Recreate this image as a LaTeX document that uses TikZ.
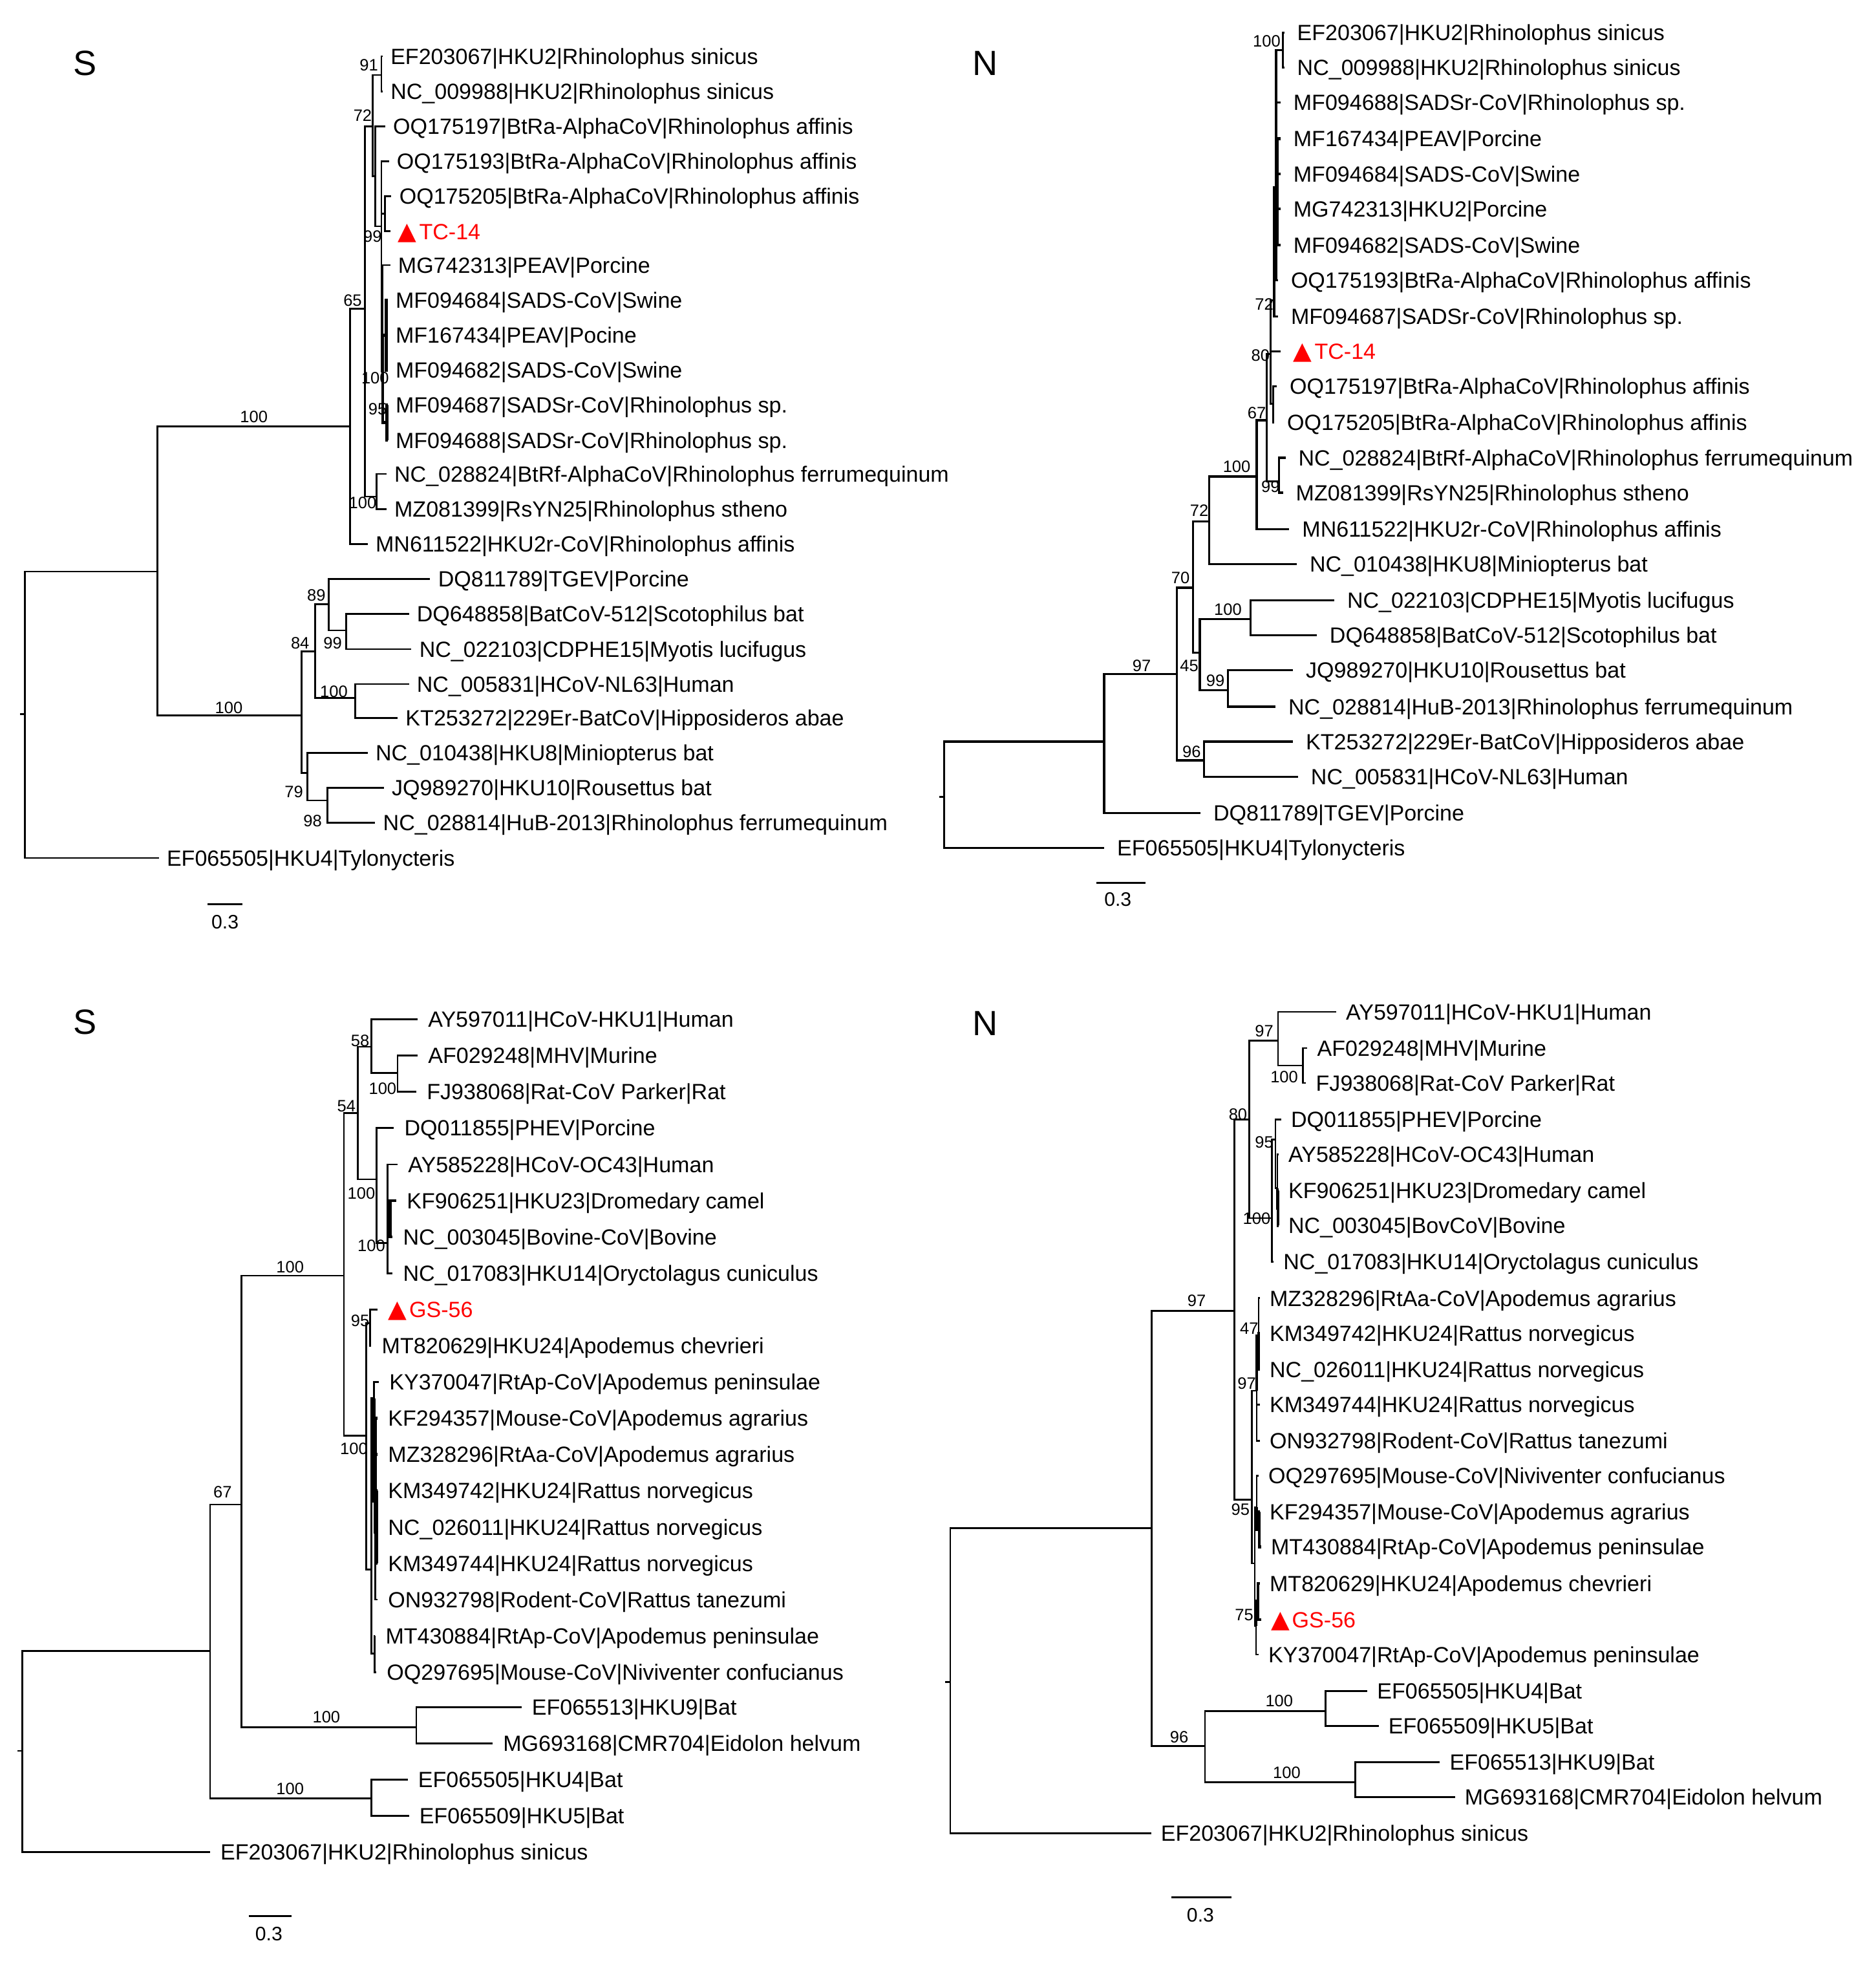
\documentclass[tikz,border=0pt]{standalone}
\usepackage{fontspec}
\setmainfont{Liberation Sans}
\newfontfamily\symfont{DejaVu Sans}
\newcommand\labfont{\fontsize{8.8pt}{10pt}\selectfont}
\newcommand\bsfont{\fontsize{6.6pt}{8pt}\selectfont}
\newcommand\scfont{\fontsize{7.8pt}{9pt}\selectfont}
\newcommand\letfont{\fontsize{14pt}{16pt}\selectfont}
\newcommand\leaf[4]{\coordinate (#1) at ({#2-\lgap},#3);\node[lab] (#1-t) at (#2,#3) {#4};}
\newcommand\leafred[4]{\coordinate (#1) at ({#2-\lgap},#3);\node[lab,text=red] (#1-t) at (#2,#3) {\scalebox{1.1}{\symfont ▲}\kern1pt#4};}
\tikzset{
  lab/.style={font=\labfont, anchor=base west, inner sep=0pt, yshift=-3.15pt},
  bs/.style={font=\bsfont, anchor=base, inner sep=0pt, yshift=-2.36pt},
  sc/.style={font=\scfont, anchor=base, inner sep=0pt, yshift=-2.8pt},
  letter/.style={font=\letfont, anchor=base, inner sep=0pt, yshift=-5pt},
  tree/.style={line width=0.7pt},
  dense/.style={line width=1.2pt},
  sbar/.style={line width=0.9pt}
}
\begin{document}
\begin{tikzpicture}[x=0.5pt,y=-0.5pt]
\useasboundingbox (0,0) rectangle (1500,1568);
% ================= TOP LEFT (S) =================
\def\lgap{6}
\node[letter] (tl-let) at (68,50) {S};
\coordinate (tl-r) at (20,571);
\coordinate (tl-stub) at (16,571);
\coordinate (tl-n1) at (126,457);
\coordinate (tl-A) at (280,341);
\coordinate (tl-B) at (292,247);
\coordinate (tl-C) at (301,397);
\coordinate (tl-D) at (298,101);
\coordinate (tl-N91) at (305,60);
\coordinate (tl-E) at (300,141);
\coordinate (tl-F) at (305,181);
\coordinate (tl-G) at (308,171);
\coordinate (tl-H) at (306,297);
\coordinate (tl-J) at (309,268);
\coordinate (tl-K) at (309.5,338);
\coordinate (tl-Q) at (241,572);
\coordinate (tl-R) at (252,521);
\coordinate (tl-S) at (263,483);
\coordinate (tl-N99) at (277,504);
\coordinate (tl-Nb) at (284,558);
\coordinate (tl-N79) at (246,618);
\coordinate (tl-N98) at (262,640);
\leaf{tl-1}{312}{45}{EF203067|HKU2|Rhinolophus sinicus}
\leaf{tl-2}{312}{73}{NC\_009988|HKU2|Rhinolophus sinicus}
\leaf{tl-3}{314}{101}{OQ175197|BtRa-AlphaCoV|Rhinolophus affinis}
\leaf{tl-4}{317}{129}{OQ175193|BtRa-AlphaCoV|Rhinolophus affinis}
\leaf{tl-5}{319}{157}{OQ175205|BtRa-AlphaCoV|Rhinolophus affinis}
\leafred{tl-6}{318}{185}{TC-14}
\leaf{tl-7}{318}{212}{MG742313|PEAV|Porcine}
\leaf{tl-8}{316}{240}{MF094684|SADS-CoV|Swine}
\leaf{tl-9}{316}{268}{MF167434|PEAV|Pocine}
\leaf{tl-10}{316}{296}{MF094682|SADS-CoV|Swine}
\leaf{tl-11}{316}{324}{MF094687|SADSr-CoV|Rhinolophus sp.}
\leaf{tl-12}{316}{352}{MF094688|SADSr-CoV|Rhinolophus sp.}
\leaf{tl-13}{315}{379}{NC\_028824|BtRf-AlphaCoV|Rhinolophus ferrumequinum}
\leaf{tl-14}{315}{407}{MZ081399|RsYN25|Rhinolophus stheno}
\leaf{tl-15}{300}{435}{MN611522|HKU2r-CoV|Rhinolophus affinis}
\leaf{tl-16}{350}{463}{DQ811789|TGEV|Porcine}
\leaf{tl-17}{333}{491}{DQ648858|BatCoV-512|Scotophilus bat}
\leaf{tl-18}{335}{519}{NC\_022103|CDPHE15|Myotis lucifugus}
\leaf{tl-19}{333}{547}{NC\_005831|HCoV-NL63|Human}
\leaf{tl-20}{324}{574}{KT253272|229Er-BatCoV|Hipposideros abae}
\leaf{tl-21}{300}{602}{NC\_010438|HKU8|Miniopterus bat}
\leaf{tl-22}{313}{630}{JQ989270|HKU10|Rousettus bat}
\leaf{tl-23}{306}{658}{NC\_028814|HuB-2013|Rhinolophus ferrumequinum}
\leaf{tl-24}{133}{686}{EF065505|HKU4|Tylonycteris}
\draw[tree] (tl-r) -- (tl-stub);
\foreach \a/\b in {tl-r/tl-n1, tl-r/tl-24, tl-n1/tl-A, tl-n1/tl-Q, tl-A/tl-B, tl-A/tl-15,
  tl-B/tl-D, tl-B/tl-C, tl-C/tl-13, tl-C/tl-14, tl-D/tl-N91, tl-D/tl-E, tl-N91/tl-1, tl-N91/tl-2,
  tl-E/tl-3, tl-E/tl-F, tl-F/tl-4, tl-F/tl-G, tl-F/tl-H, tl-G/tl-5, tl-G/tl-6, tl-H/tl-7,
  tl-Q/tl-R, tl-Q/tl-N79, tl-R/tl-S, tl-R/tl-Nb, tl-S/tl-16, tl-S/tl-N99, tl-N99/tl-17,
  tl-N99/tl-18, tl-Nb/tl-19, tl-Nb/tl-20, tl-N79/tl-21, tl-N79/tl-N98, tl-N98/tl-22, tl-N98/tl-23}
  \draw[tree] (\a) |- (\b);
\foreach \a/\b in {tl-H/tl-J, tl-H/tl-K, tl-J/tl-8, tl-J/tl-9, tl-J/tl-10, tl-K/tl-11, tl-K/tl-12}
  \draw[dense] (\a) |- (\b);
\foreach \x/\y/\t [count=\i] in {295/52/91, 290/92/72, 298/189/99, 282/240/65, 300/302/100,
  302/327/95, 203/333/100, 290/402/100, 183/566/100, 253/476/89, 266/514/99, 240/514/84,
  267/553/100, 235/633/79, 250/656/98}
  \node[bs] (tl-bs\i) at (\x,\y) {\t};
\coordinate (tl-sb1) at (166,723);
\coordinate (tl-sb2) at (194,723);
\draw[sbar] (tl-sb1) -- (tl-sb2);
\node[sc] (tl-sbt) at (180,737) {0.3};
% ================= TOP RIGHT (N) =================
\def\lgap{10}
\node[letter] (tr-let) at (788,50) {N};
\coordinate (tr-r) at (755,637);
\coordinate (tr-stub) at (751,637);
\coordinate (tr-N97a) at (883,593);
\coordinate (tr-N97) at (941,539);
\coordinate (tr-N70) at (954,470);
\coordinate (tr-N72) at (967,417);
\coordinate (tr-N100) at (1005,381);
\coordinate (tr-N67) at (1013,336);
\coordinate (tr-N99) at (1023,385);
\coordinate (tr-N80) at (1016,283);
\coordinate (tr-Noq) at (1018,323);
\coordinate (tr-N72b) at (1019,240);
\coordinate (tr-Nc) at (1020.5,150);
\coordinate (tr-Nc2) at (1021.5,160);
\coordinate (tr-Ntop) at (1026,40);
\coordinate (tr-N45) at (959.5,522);
\coordinate (tr-N100b) at (1000,495);
\coordinate (tr-N99b) at (982,552);
\coordinate (tr-N96) at (963,608);
\leaf{tr-1}{1037}{26}{EF203067|HKU2|Rhinolophus sinicus}
\leaf{tr-2}{1037}{54}{NC\_009988|HKU2|Rhinolophus sinicus}
\leaf{tr-3}{1034}{82}{MF094688|SADSr-CoV|Rhinolophus sp.}
\leaf{tr-4}{1034}{111}{MF167434|PEAV|Porcine}
\leaf{tr-5}{1034}{139}{MF094684|SADS-CoV|Swine}
\leaf{tr-6}{1034}{167}{MG742313|HKU2|Porcine}
\leaf{tr-7}{1034}{196}{MF094682|SADS-CoV|Swine}
\leaf{tr-8}{1032}{224}{OQ175193|BtRa-AlphaCoV|Rhinolophus affinis}
\leaf{tr-9}{1032}{253}{MF094687|SADSr-CoV|Rhinolophus sp.}
\leafred{tr-10}{1034}{281}{TC-14}
\leaf{tr-11}{1031}{309}{OQ175197|BtRa-AlphaCoV|Rhinolophus affinis}
\leaf{tr-12}{1029}{338}{OQ175205|BtRa-AlphaCoV|Rhinolophus affinis}
\leaf{tr-13}{1038}{366}{NC\_028824|BtRf-AlphaCoV|Rhinolophus ferrumequinum}
\leaf{tr-14}{1036}{394}{MZ081399|RsYN25|Rhinolophus stheno}
\leaf{tr-15}{1041}{423}{MN611522|HKU2r-CoV|Rhinolophus affinis}
\leaf{tr-16}{1047}{451}{NC\_010438|HKU8|Miniopterus bat}
\leaf{tr-17}{1077}{480}{NC\_022103|CDPHE15|Myotis lucifugus}
\leaf{tr-18}{1063}{508}{DQ648858|BatCoV-512|Scotophilus bat}
\leaf{tr-19}{1044}{536}{JQ989270|HKU10|Rousettus bat}
\leaf{tr-20}{1030}{565}{NC\_028814|HuB-2013|Rhinolophus ferrumequinum}
\leaf{tr-21}{1044}{593}{KT253272|229Er-BatCoV|Hipposideros abae}
\leaf{tr-22}{1048}{621}{NC\_005831|HCoV-NL63|Human}
\leaf{tr-23}{970}{650}{DQ811789|TGEV|Porcine}
\leaf{tr-24}{893}{678}{EF065505|HKU4|Tylonycteris}
\begin{scope}[tree/.style={line width=0.85pt}]
\draw[tree] (tr-r) -- (tr-stub);
\foreach \a/\b in {tr-r/tr-N97a, tr-r/tr-24, tr-N97a/tr-N97, tr-N97a/tr-23, tr-N97/tr-N70,
  tr-N97/tr-N96, tr-N70/tr-N72, tr-N70/tr-N45, tr-N72/tr-N100, tr-N72/tr-16, tr-N100/tr-N67,
  tr-N100/tr-15, tr-N67/tr-N80, tr-N67/tr-N99, tr-N99/tr-13, tr-N99/tr-14, tr-N80/tr-N72b,
  tr-N80/tr-10, tr-N80/tr-Noq, tr-Noq/tr-11, tr-Noq/tr-12, tr-N72b/tr-9,
  tr-Nc/tr-Ntop, tr-Nc/tr-3, tr-Nc/tr-8, tr-Ntop/tr-1, tr-Ntop/tr-2, tr-N45/tr-N100b,
  tr-N45/tr-N99b, tr-N100b/tr-17, tr-N100b/tr-18, tr-N99b/tr-19, tr-N99b/tr-20,
  tr-N96/tr-21, tr-N96/tr-22}
  \draw[tree] (\a) |- (\b);
\end{scope}
\foreach \a/\b in {tr-N72b/tr-Nc, tr-Nc/tr-Nc2, tr-Nc2/tr-4, tr-Nc2/tr-5, tr-Nc2/tr-6, tr-Nc2/tr-7}
  \draw[dense] (\a) |- (\b);
\foreach \x/\y/\t [count=\i] in {1013/33/100, 1011/243/72, 1008/284/80, 1005/330/67,
  989/373/100, 1016/389/99, 959/408/72, 944/462/70, 982/487/100, 951/532/45, 913/532/97,
  972/544/99, 953/601/96}
  \node[bs] (tr-bs\i) at (\x,\y) {\t};
\coordinate (tr-sb1) at (877,706);
\coordinate (tr-sb2) at (916,706);
\draw[sbar] (tr-sb1) -- (tr-sb2);
\node[sc] (tr-sbt) at (894,719) {0.3};
% ================= BOTTOM LEFT (S) =================
\def\lgap{8}
\node[letter] (bl-let) at (68,817) {S};
\coordinate (bl-r) at (18,1400);
\coordinate (bl-stub) at (14,1400);
\coordinate (bl-N67) at (168,1320);
\coordinate (bl-Nhk) at (297,1438);
\coordinate (bl-Na) at (193,1203);
\coordinate (bl-Nh9) at (333,1381);
\coordinate (bl-Nb) at (275,1020);
\coordinate (bl-N54) at (286,890);
\coordinate (bl-N58) at (297,837);
\coordinate (bl-Nd) at (318,858);
\coordinate (bl-Ne) at (301,943);
\coordinate (bl-Nf) at (310,994);
\coordinate (bl-Nkf) at (312,975);
\coordinate (bl-Ng) at (293,1148);
\coordinate (bl-N95) at (296,1058);
\coordinate (bl-Nbig) at (297,1255);
\coordinate (bl-Nx) at (299,1118);
\coordinate (bl-Nc) at (300,1200);
\coordinate (bl-Nd2) at (301,1225);
\coordinate (bl-Ny) at (299.5,1322);
\leaf{bl-1}{342}{815}{AY597011|HCoV-HKU1|Human}
\leaf{bl-2}{342}{844}{AF029248|MHV|Murine}
\leaf{bl-3}{341}{873}{FJ938068|Rat-CoV Parker|Rat}
\leaf{bl-4}{323}{902}{DQ011855|PHEV|Porcine}
\leaf{bl-5}{326}{931}{AY585228|HCoV-OC43|Human}
\leaf{bl-6}{325}{960}{KF906251|HKU23|Dromedary camel}
\leaf{bl-7}{322}{989}{NC\_003045|Bovine-CoV|Bovine}
\leaf{bl-8}{322}{1018}{NC\_017083|HKU14|Oryctolagus cuniculus}
\leafred{bl-9}{310}{1047}{GS-56}
\leaf{bl-10}{305}{1076}{MT820629|HKU24|Apodemus chevrieri}
\leaf{bl-11}{311}{1105}{KY370047|RtAp-CoV|Apodemus peninsulae}
\leaf{bl-12}{310}{1134}{KF294357|Mouse-CoV|Apodemus agrarius}
\leaf{bl-13}{310}{1163}{MZ328296|RtAa-CoV|Apodemus agrarius}
\leaf{bl-14}{310}{1192}{KM349742|HKU24|Rattus norvegicus}
\leaf{bl-15}{310}{1221}{NC\_026011|HKU24|Rattus norvegicus}
\leaf{bl-16}{310}{1250}{KM349744|HKU24|Rattus norvegicus}
\leaf{bl-17}{310}{1279}{ON932798|Rodent-CoV|Rattus tanezumi}
\leaf{bl-18}{308}{1308}{MT430884|RtAp-CoV|Apodemus peninsulae}
\leaf{bl-19}{309}{1337}{OQ297695|Mouse-CoV|Niviventer confucianus}
\leaf{bl-20}{425}{1365}{EF065513|HKU9|Bat}
\leaf{bl-21}{402}{1394}{MG693168|CMR704|Eidolon helvum}
\leaf{bl-22}{334}{1423}{EF065505|HKU4|Bat}
\leaf{bl-23}{335}{1452}{EF065509|HKU5|Bat}
\leaf{bl-24}{176}{1481}{EF203067|HKU2|Rhinolophus sinicus}
\draw[tree] (bl-r) -- (bl-stub);
\foreach \a/\b in {bl-r/bl-N67, bl-r/bl-24, bl-N67/bl-Na, bl-N67/bl-Nhk, bl-Nhk/bl-22,
  bl-Nhk/bl-23, bl-Na/bl-Nb, bl-Na/bl-Nh9, bl-Nh9/bl-20, bl-Nh9/bl-21, bl-Nb/bl-N54,
  bl-Nb/bl-Ng, bl-N54/bl-N58, bl-N54/bl-Ne, bl-N58/bl-1, bl-N58/bl-Nd, bl-Nd/bl-2, bl-Nd/bl-3,
  bl-Ne/bl-4, bl-Ne/bl-Nf, bl-Nf/bl-5, bl-Nf/bl-Nkf, bl-Nf/bl-8,
  bl-Ng/bl-N95, bl-Ng/bl-Nbig, bl-N95/bl-9, bl-N95/bl-10, bl-Nbig/bl-Nx, bl-Nbig/bl-Ny,
  bl-Nx/bl-11, bl-Nc/bl-17, bl-Ny/bl-18, bl-Ny/bl-19}
  \draw[tree] (\a) |- (\b);
\foreach \a/\b in {bl-Nkf/bl-6, bl-Nkf/bl-7, bl-Nx/bl-Nc, bl-Nc/bl-12, bl-Nc/bl-13,
  bl-Nc/bl-Nd2, bl-Nd2/bl-14, bl-Nd2/bl-15, bl-Nd2/bl-16}
  \draw[dense] (\a) |- (\b);
\foreach \x/\y/\t [count=\i] in {288/832/58, 306/870/100, 277/884/54, 289/954/100,
  297/996/100, 232/1013/100, 288/1056/95, 283/1158/100, 178/1193/67, 261/1373/100, 232/1430/100}
  \node[bs] (bl-bs\i) at (\x,\y) {\t};
\coordinate (bl-sb1) at (199,1532);
\coordinate (bl-sb2) at (233,1532);
\draw[sbar] (bl-sb1) -- (bl-sb2);
\node[sc] (bl-sbt) at (215,1546) {0.3};
% ================= BOTTOM RIGHT (N) =================
\def\lgap{7.5}
\node[letter] (br-let) at (788,818) {N};
\coordinate (br-r) at (760,1345);
\coordinate (br-stub) at (756,1345);
\coordinate (br-Nm) at (921,1222);
\coordinate (br-N97) at (987,1048);
\coordinate (br-N80) at (999,895);
\coordinate (br-N97b) at (1022,832);
\coordinate (br-Nk) at (1042,852);
\coordinate (br-Nj) at (1017,974);
\coordinate (br-N95c) at (1020,911);
\coordinate (br-Noc) at (1021.5,950);
\coordinate (br-Nkf2) at (1022,966);
\coordinate (br-N95b) at (1001,1199);
\coordinate (br-N97c) at (1005,1112);
\coordinate (br-N47) at (1006.5,1068);
\coordinate (br-Nx) at (1003.5,1250);
\coordinate (br-Noq) at (1005,1205);
\coordinate (br-Nkf) at (1007,1223);
\coordinate (br-N75) at (1004.5,1300);
\coordinate (br-Nmt) at (1006,1280);
\coordinate (br-N96) at (963.7,1396);
\coordinate (br-Nh) at (1060,1368);
\coordinate (br-Ni) at (1084,1425);
\leaf{br-1}{1076}{809}{AY597011|HCoV-HKU1|Human}
\leaf{br-2}{1053}{838}{AF029248|MHV|Murine}
\leaf{br-3}{1052}{866}{FJ938068|Rat-CoV Parker|Rat}
\leaf{br-4}{1032}{895}{DQ011855|PHEV|Porcine}
\leaf{br-5}{1030}{923}{AY585228|HCoV-OC43|Human}
\leaf{br-6}{1030}{952}{KF906251|HKU23|Dromedary camel}
\leaf{br-7}{1030}{980}{NC\_003045|BovCoV|Bovine}
\leaf{br-8}{1026}{1009}{NC\_017083|HKU14|Oryctolagus cuniculus}
\leaf{br-9}{1015}{1038}{MZ328296|RtAa-CoV|Apodemus agrarius}
\leaf{br-10}{1015}{1066}{KM349742|HKU24|Rattus norvegicus}
\leaf{br-11}{1015}{1095}{NC\_026011|HKU24|Rattus norvegicus}
\leaf{br-12}{1015}{1123}{KM349744|HKU24|Rattus norvegicus}
\leaf{br-13}{1015}{1152}{ON932798|Rodent-CoV|Rattus tanezumi}
\leaf{br-14}{1014}{1180}{OQ297695|Mouse-CoV|Niviventer confucianus}
\leaf{br-15}{1015}{1209}{KF294357|Mouse-CoV|Apodemus agrarius}
\leaf{br-16}{1016}{1237}{MT430884|RtAp-CoV|Apodemus peninsulae}
\leaf{br-17}{1015}{1266}{MT820629|HKU24|Apodemus chevrieri}
\leafred{br-18}{1016}{1295}{GS-56}
\leaf{br-19}{1014}{1323}{KY370047|RtAp-CoV|Apodemus peninsulae}
\leaf{br-20}{1101}{1352}{EF065505|HKU4|Bat}
\leaf{br-21}{1110}{1380}{EF065509|HKU5|Bat}
\leaf{br-22}{1159}{1409}{EF065513|HKU9|Bat}
\leaf{br-23}{1171}{1437}{MG693168|CMR704|Eidolon helvum}
\leaf{br-24}{928}{1466}{EF203067|HKU2|Rhinolophus sinicus}
\draw[tree] (br-r) -- (br-stub);
\foreach \a/\b in {br-r/br-Nm, br-r/br-24, br-Nm/br-N97, br-Nm/br-N96, br-N97/br-N80,
  br-N97/br-N95b, br-N80/br-N97b, br-N80/br-Nj, br-N97b/br-1, br-N97b/br-Nk, br-Nk/br-2,
  br-Nk/br-3, br-Nj/br-N95c, br-Nj/br-8, br-N95c/br-4, br-N95c/br-Noc, br-Noc/br-5,
  br-N95b/br-N97c, br-N95b/br-Nx,
  br-N97c/br-12, br-N97c/br-13, br-N47/br-9,
  br-Nx/br-Noq, br-Nx/br-N75, br-Noq/br-14,
  br-N75/br-19, br-N96/br-Nh, br-N96/br-Ni,
  br-Nh/br-20, br-Nh/br-21, br-Ni/br-22, br-Ni/br-23}
  \draw[tree] (\a) |- (\b);
\foreach \a/\b in {br-Noc/br-Nkf2, br-Nkf2/br-6, br-Nkf2/br-7, br-N97c/br-N47, br-N47/br-10,
  br-N47/br-11, br-Noq/br-Nkf, br-Nkf/br-15, br-Nkf/br-16, br-N75/br-Nmt, br-Nmt/br-17, br-Nmt/br-18}
  \draw[dense] (\a) |- (\b);
\foreach \x/\y/\t [count=\i] in {1011/824/97, 1027/861/100, 990/891/80, 1011/913/95,
  1005/974/100, 957/1040/97, 999/1062/47, 997/1106/97, 992/1207/95, 995/1291/75,
  1023/1360/100, 943/1389/96, 1029/1417/100}
  \node[bs] (br-bs\i) at (\x,\y) {\t};
\coordinate (br-sb1) at (937,1517);
\coordinate (br-sb2) at (985,1517);
\draw[sbar] (br-sb1) -- (br-sb2);
\node[sc] (br-sbt) at (960,1531) {0.3};
\end{tikzpicture}
\end{document}
